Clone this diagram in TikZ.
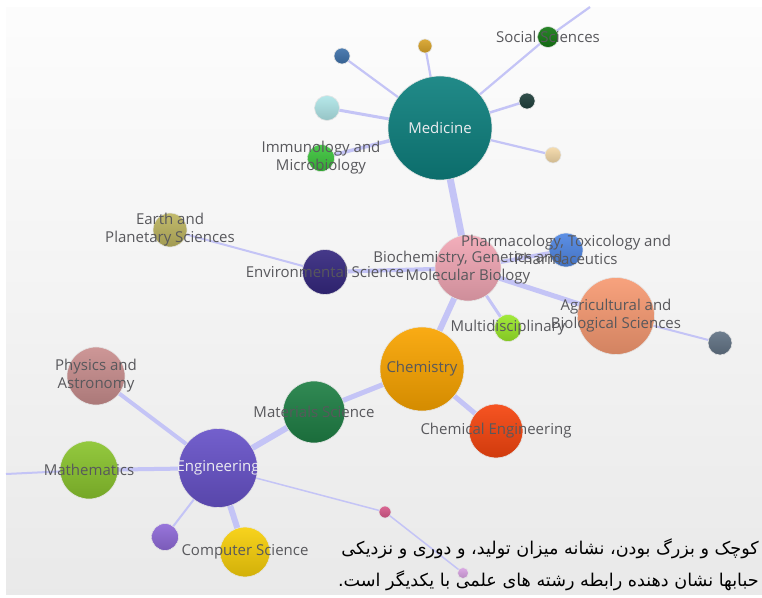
\documentclass[tikz,border=0pt]{standalone}
\usepackage{fontspec}
\setmainfont{Open Sans}
\newfontfamily\farsi[Script=Arabic]{DejaVu Sans}
\TeXXeTstate=1
\usetikzlibrary{positioning}
\pgfdeclarelayer{bg}
\pgfsetlayers{bg,main}

\definecolor{linkcol}{RGB}{196,196,246}
\definecolor{lblgray}{RGB}{88,88,92}
\definecolor{lbllight}{RGB}{236,236,240}
\definecolor{medcol}{RGB}{14,128,126}
\definecolor{soccol}{RGB}{22,122,22}
\definecolor{bluecol}{RGB}{63,114,170}
\definecolor{goldcol}{RGB}{217,164,42}
\definecolor{cyancol}{RGB}{176,230,232}
\definecolor{immcol}{RGB}{61,196,61}
\definecolor{dtealcol}{RGB}{32,64,60}
\definecolor{peachcol}{RGB}{244,217,168}
\definecolor{biocol}{RGB}{242,167,181}
\definecolor{pharmcol}{RGB}{79,134,227}
\definecolor{agricol}{RGB}{247,154,114}
\definecolor{gbluecol}{RGB}{98,115,133}
\definecolor{multicol}{RGB}{154,232,42}
\definecolor{envcol}{RGB}{53,40,127}
\definecolor{earthcol}{RGB}{189,181,96}
\definecolor{chemcol}{RGB}{249,164,0}
\definecolor{chengcol}{RGB}{245,69,15}
\definecolor{matcol}{RGB}{31,127,69}
\definecolor{engcol}{RGB}{103,82,200}
\definecolor{physcol}{RGB}{201,142,142}
\definecolor{mathcol}{RGB}{138,196,46}
\definecolor{purpcol}{RGB}{143,106,216}
\definecolor{compcol}{RGB}{247,207,10}
\definecolor{pinkcol}{RGB}{216,90,138}
\definecolor{lpurpcol}{RGB}{217,163,227}

\begin{document}
\begin{tikzpicture}[x=1pt,y=-1pt,bubble/.style 2 args={circle, minimum size=#1, inner sep=0pt, draw=white!80!gray, line width=0.6pt, top color=#2!92!white, bottom color=#2!85!black},link/.style={draw=linkcol, line width=#1},lbl/.style={text=lblgray, font=\fontsize{15}{18}\selectfont, align=center, inner sep=0pt}]
\useasboundingbox (0,0) rectangle (762,597);

% bubbles
\node[bubble={104}{medcol}] (medicine) at (440,128) {};
\node[bubble={21}{soccol}] (social) at (548,37) {};
\node[bubble={16}{bluecol}] (blue) at (342,56) {};
\node[bubble={14}{goldcol}] (gold) at (425,46) {};
\node[bubble={25}{cyancol}] (cyan) at (327,108) {};
\node[bubble={27}{immcol}] (immuno) at (321,158) {};
\node[bubble={16}{dtealcol}] (dteal) at (527,101) {};
\node[bubble={16}{peachcol}] (peach) at (553,155) {};
\node[bubble={66}{biocol}] (biochem) at (468,268) {};
\node[bubble={34}{pharmcol}] (pharma) at (566,250) {};
\node[bubble={77}{agricol}] (agri) at (616,316) {};
\node[bubble={24}{gbluecol}] (gblue) at (720,343) {};
\node[bubble={27}{multicol}] (multi) at (508,328) {};
\node[bubble={45}{envcol}] (envsci) at (325,272) {};
\node[bubble={34}{earthcol}] (earth) at (170,230) {};
\node[bubble={84}{chemcol}] (chem) at (422,369) {};
\node[bubble={54}{chengcol}] (cheng) at (496,431) {};
\node[bubble={62}{matcol}] (matsci) at (314,412) {};
\node[bubble={79}{engcol}] (eng) at (218,468) {};
\node[bubble={58}{physcol}] (physics) at (96,376) {};
\node[bubble={58}{mathcol}] (math) at (89,470) {};
\node[bubble={27}{purpcol}] (purple) at (165,537) {};
\node[bubble={50}{compcol}] (compsci) at (245,552) {};
\node[bubble={12}{pinkcol}] (pink) at (385,512) {};
\node[bubble={11}{lpurpcol}] (lpurple) at (463,573) {};
\coordinate (topend) at (590,7);
\coordinate (leftend) at (6,474);

% background and links
\begin{pgfonlayer}{bg}
\fill[white] (0,0) rectangle (762,597);
\shade[top color=white!98!gray, bottom color=gray!17] (6,7) rectangle (762,594);
\draw[link=2.2] (medicine.center) -- (social.center) -- (topend);
\draw[link=2.2] (medicine.center) -- (blue.center);
\draw[link=2.2] (medicine.center) -- (gold.center);
\draw[link=3] (medicine.center) -- (cyan.center);
\draw[link=3.5] (medicine.center) -- (immuno.center);
\draw[link=2.5] (medicine.center) -- (dteal.center);
\draw[link=2.2] (medicine.center) -- (peach.center);
\draw[link=7] (medicine.center) -- (biochem.center);
\draw[link=4] (biochem.center) -- (envsci.center);
\draw[link=2] (envsci.center) -- (earth.center);
\draw[link=4] (biochem.center) -- (pharma.center);
\draw[link=5] (biochem.center) -- (agri.center);
\draw[link=2] (agri.center) -- (gblue.center);
\draw[link=3] (biochem.center) -- (multi.center);
\draw[link=6] (biochem.center) -- (chem.center);
\draw[link=5] (chem.center) -- (matsci.center);
\draw[link=5] (chem.center) -- (cheng.center);
\draw[link=6] (matsci.center) -- (eng.center);
\draw[link=4] (eng.center) -- (physics.center);
\draw[link=4] (eng.center) -- (math.center);
\draw[link=2] (math.center) -- (leftend);
\draw[link=2] (eng.center) -- (purple.center);
\draw[link=6] (eng.center) -- (compsci.center);
\draw[link=1.5] (eng.center) -- (pink.center) -- (lpurple.center);
\end{pgfonlayer}

% labels
\node[lbl] (socialL) at (social) {Social Sciences};
\node[lbl, text=lbllight] (medicineL) at (medicine) {Medicine};
\node[lbl] (immunoL) at (immuno) {Immunology and\\Microbiology};
\node[lbl] (earthL) at (earth) {Earth and\\Planetary Sciences};
\node[lbl] (envsciL) at (envsci) {Environmental Science};
\node[lbl] (biochemL) at (biochem) {Biochemistry, Genetics and\\Molecular Biology};
\node[lbl] (pharmaL) at (pharma) {Pharmacology, Toxicology and\\Pharmaceutics};
\node[lbl] (agriL) at (agri) {Agricultural and\\Biological Sciences};
\node[lbl] (multiL) at (multi) {Multidisciplinary};
\node[lbl] (chemL) at (chem) {Chemistry};
\node[lbl] (chengL) at (cheng) {Chemical Engineering};
\node[lbl] (matsciL) at (matsci) {Materials Science};
\node[lbl, text=lbllight] (engL) at (eng) {Engineering};
\node[lbl] (physicsL) at (physics) {Physics and\\Astronomy};
\node[lbl] (mathL) at (math) {Mathematics};
\node[lbl] (compsciL) at (compsci) {Computer Science};

% caption
\node[anchor=east, align=right, inner sep=0pt, font=\farsi\fontsize{17.6}{32}\selectfont] (caption) at (759,565) {\beginR کوچک و بزرگ بودن، نشانه میزان تولید، و دوری و نزدیکی\endR\\\beginR حبابها نشان دهنده رابطه رشته های علمی با یکدیگر است.\endR};
\end{tikzpicture}
\end{document}
